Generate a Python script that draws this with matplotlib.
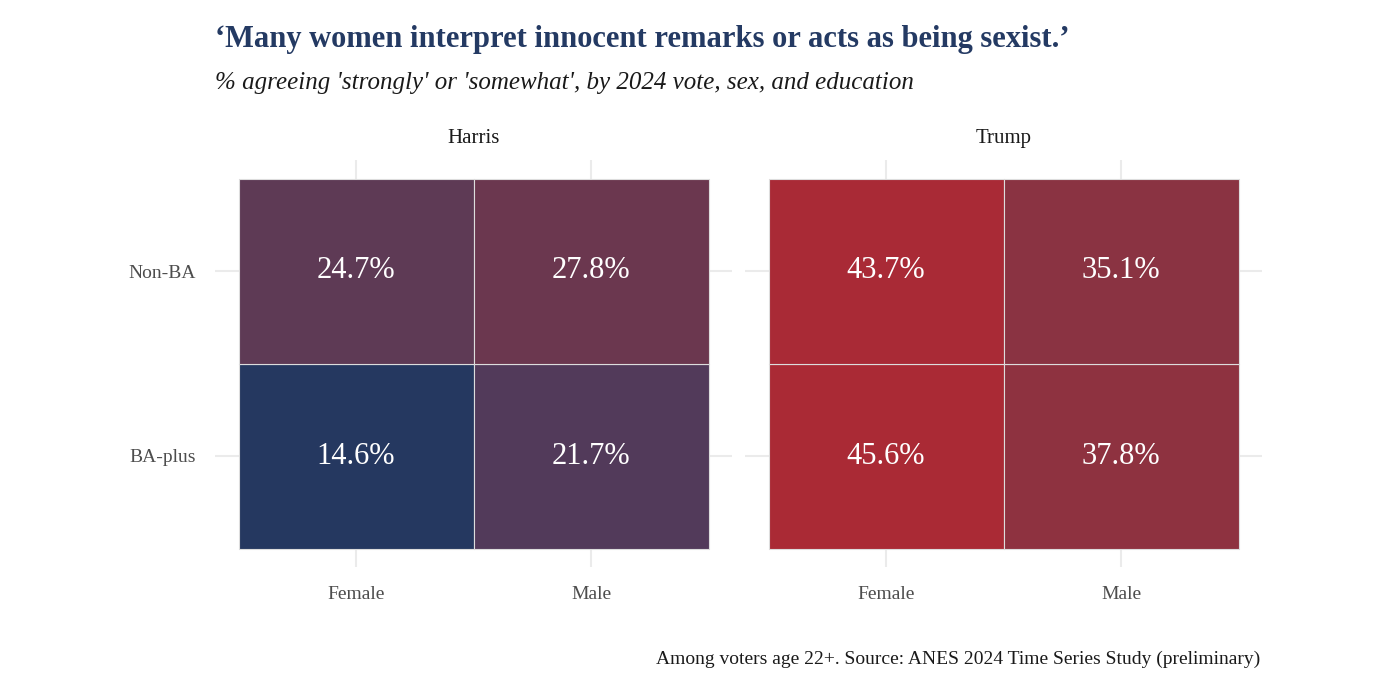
import matplotlib.pyplot as plt
from matplotlib.patches import Rectangle

plt.rcParams['font.family'] = ['Liberation Serif', 'DejaVu Serif']

SEX = ['Female', 'Male']
EDU = ['BA-plus', 'Non-BA']
PANELS = ['Harris', 'Trump']
# values[panel][edu][sex]
VALUES = {
    'Harris': {'Non-BA': [24.7, 27.8], 'BA-plus': [14.6, 21.7]},
    'Trump': {'Non-BA': [43.7, 35.1], 'BA-plus': [45.6, 37.8]},
}
COLORS = {
    'Harris': {'Non-BA': ['#5e3a55', '#6b374f'], 'BA-plus': ['#253860', '#523a5a']},
    'Trump': {'Non-BA': ['#a92a36', '#8a3342'], 'BA-plus': ['#aa2a35', '#8e3240']},
}

fig = plt.figure(figsize=(13.86, 6.88), dpi=100)
lefts = [215 / 1386, 745 / 1386]
grid_c = '#ebebeb'
for i, panel in enumerate(PANELS):
    ax = fig.add_axes([lefts[i], 1 - 567 / 688, 517 / 1386, 407 / 688])
    ax.set_xlim(0.4, 2.6)
    ax.set_ylim(0.4, 2.6)
    for k in (1, 2):
        ax.axvline(k, color=grid_c, lw=1.5, zorder=0)
        ax.axhline(k, color=grid_c, lw=1.5, zorder=0)
    for yi, edu in enumerate(EDU):
        for xi, sex in enumerate(SEX):
            v = VALUES[panel][edu][xi]
            ax.add_patch(Rectangle((xi + 0.5, yi + 0.5), 1, 1,
                                   facecolor=COLORS[panel][edu][xi],
                                   edgecolor='#dddddd', lw=0.8, zorder=1))
            ax.text(xi + 1, yi + 1, f'{v:.1f}%', ha='center', va='center',
                    color='white', fontsize=22, zorder=2)
    for s in ax.spines.values():
        s.set_visible(False)
    ax.set_xticks([1, 2], SEX)
    ax.tick_params(length=0, labelsize=14, labelcolor='#4d4d4d', pad=14)
    if i == 0:
        ax.set_yticks([1, 2], EDU)
    else:
        ax.set_yticks([])
    ax.set_title(panel, fontsize=15, color='#1a1a1a', pad=12)

fig.text(215 / 1386, 1 - 40 / 688, '\u2018Many women interpret innocent remarks or acts as being sexist.\u2019',
         fontsize=22, fontweight='bold', color='#243a63', va='center')
fig.text(215 / 1386, 1 - 83 / 688, "% agreeing 'strongly' or 'somewhat', by 2024 vote, sex, and education",
         fontsize=18, style='italic', color='#1a1a1a', va='center')
fig.text(1260 / 1386, 1 - 659 / 688, 'Among voters age 22+. Source: ANES 2024 Time Series Study (preliminary)',
         fontsize=14, ha='right', va='center', color='#1a1a1a')

fig.savefig('out.png', dpi=100, facecolor='white')
